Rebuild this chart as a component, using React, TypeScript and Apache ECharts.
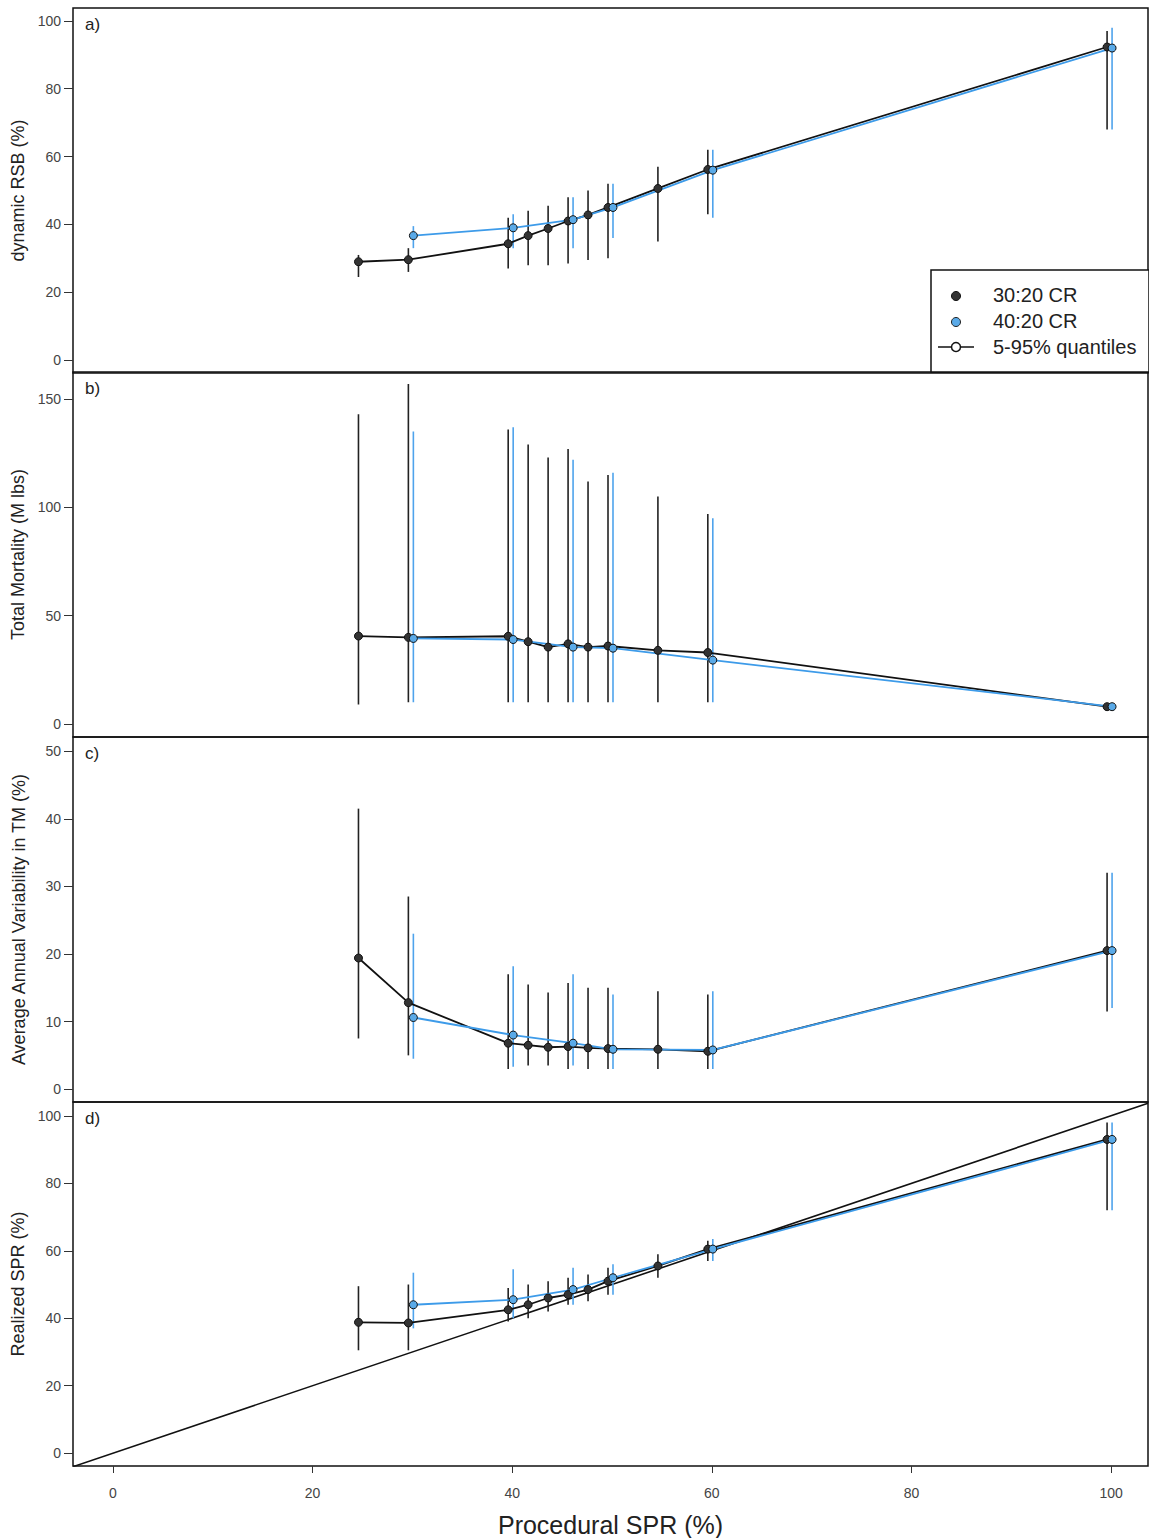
import * as echarts from "echarts";
import { useEffect, useRef } from "react";

// procedural SPR levels
const sprBlack = [25, 30, 40, 42, 44, 46, 48, 50, 55, 60, 100];
const sprBlue = [30, 40, 46, 50, 60, 100];

// a) dynamic RSB (%)
const rsbBlack = [29, 29.6, 34.3, 36.7, 38.8, 41, 42.8, 45, 50.6, 56.2, 92.3];
const rsbBlackLo = [24.5, 26, 27, 28, 28, 28.5, 29.5, 30, 35, 43, 68];
const rsbBlackHi = [31, 33, 42, 44, 45.5, 48, 50, 52, 57, 62, 97];
const rsbBlue = [36.7, 39, 41.4, 45, 56, 92];
const rsbBlueLo = [33, 33, 33, 36, 42, 68];
const rsbBlueHi = [39.5, 43, 48, 52, 62, 98];

// b) Total mortality (M lbs)
const tmBlack = [40.6, 40, 40.5, 38, 35.5, 37, 35.5, 36, 34, 33, 8];
const tmBlackLo = [9, 10, 10, 10, 10, 10, 10, 10, 10, 10, 7];
const tmBlackHi = [143, 157, 136, 129, 123, 127, 112, 115, 105, 97, 9];
const tmBlue = [39.5, 39, 35.5, 35, 29.5, 8];
const tmBlueLo = [10, 10, 10, 10, 10, 7];
const tmBlueHi = [135, 137, 122, 116, 95, 9];

// c) Average annual variability in TM (%)
const aavBlack = [19.4, 12.8, 6.8, 6.5, 6.2, 6.3, 6.1, 6, 5.9, 5.6, 20.5];
const aavBlackLo = [7.5, 5, 3, 3.5, 3.5, 3, 3, 3, 3, 3, 11.5];
const aavBlackHi = [41.5, 28.5, 17, 15.5, 14.3, 15.7, 15, 15, 14.5, 14, 32];
const aavBlue = [10.6, 8, 6.8, 5.9, 5.8, 20.5];
const aavBlueLo = [4.5, 3.3, 3.5, 3, 3, 12];
const aavBlueHi = [23, 18.2, 17, 14, 14.5, 32];

// d) Realized SPR (%)
const realBlack = [38.8, 38.6, 42.5, 44, 46, 47, 48.5, 51, 55.5, 60.5, 93];
const realBlackLo = [30.5, 30.5, 39, 40, 42, 44, 45, 47, 52, 57, 72];
const realBlackHi = [49.5, 50, 49, 50, 51, 52, 53, 55, 59, 63, 98];
const realBlue = [44, 45.5, 48.5, 52, 60.5, 93];
const realBlueLo = [37, 40, 44, 47, 57, 72];
const realBlueHi = [53.5, 54.5, 55, 56, 63.5, 98];

const BLACK_SHIFT = -0.4;
const BLUE_SHIFT = 0.1;
const X_MIN = -4;
const X_MAX = 103.7;

const panels = [
  { label: "a)", name: "dynamic RSB (%)", min: -3.8, max: 103.8, ticks: [0, 20, 40, 60, 80, 100],
    b: rsbBlack, bl: rsbBlackLo, bh: rsbBlackHi, u: rsbBlue, ul: rsbBlueLo, uh: rsbBlueHi },
  { label: "b)", name: "Total Mortality (M lbs)", min: -6, max: 162.5, ticks: [0, 50, 100, 150],
    b: tmBlack, bl: tmBlackLo, bh: tmBlackHi, u: tmBlue, ul: tmBlueLo, uh: tmBlueHi },
  { label: "c)", name: "Average Annual Variability in TM (%)", min: -1.9, max: 52.1, ticks: [0, 10, 20, 30, 40, 50],
    b: aavBlack, bl: aavBlackLo, bh: aavBlackHi, u: aavBlue, ul: aavBlueLo, uh: aavBlueHi },
  { label: "d)", name: "Realized SPR (%)", min: -3.8, max: 104.1, ticks: [0, 20, 40, 60, 80, 100],
    b: realBlack, bl: realBlackLo, bh: realBlackHi, u: realBlue, ul: realBlueLo, uh: realBlueHi },
];

const tops = [8, 372, 737, 1102];
const H = 365;
const LEFT = 73;
const W = 1075;

const BLUE_LINE = "#3d9be9";
const BLUE_FILL = "#5aaae8";

const errSeries = (idx: number, xs: number[], lo: number[], hi: number[], shift: number, color: string) => ({
  type: "custom",
  xAxisIndex: idx,
  yAxisIndex: idx,
  z: 2,
  data: xs.map((x, i) => [x + shift, lo[i], hi[i]]),
  encode: { x: 0, y: [1, 2] },
  renderItem: (_p: any, api: any) => {
    const a = api.coord([api.value(0), api.value(1)]);
    const b = api.coord([api.value(0), api.value(2)]);
    return {
      type: "line",
      shape: { x1: a[0], y1: a[1], x2: b[0], y2: b[1] },
      style: { stroke: color, lineWidth: 1.6 },
    };
  },
});

const ptSeries = (idx: number, xs: number[], ys: number[], shift: number, line: string, fill: string) => ({
  type: "line",
  xAxisIndex: idx,
  yAxisIndex: idx,
  z: 3,
  data: xs.map((x, i) => [x + shift, ys[i]]),
  symbol: "circle",
  symbolSize: 8,
  lineStyle: { color: line, width: 1.8 },
  itemStyle: { color: fill, borderColor: "#111", borderWidth: 1 },
});

const App: React.FC = () => {
  const chartRef = useRef<HTMLDivElement>(null);

  useEffect(() => {
    document.body.style.margin = "0";
    if (!chartRef.current) return;
    const chart = echarts.init(chartRef.current, undefined, { renderer: "svg" });

    const series: any[] = [];
    panels.forEach((p, i) => {
      series.push(errSeries(i, sprBlack, p.bl, p.bh, BLACK_SHIFT, "#222"));
      series.push(errSeries(i, sprBlue, p.ul, p.uh, BLUE_SHIFT, "#4ea3ec"));
      series.push(ptSeries(i, sprBlack, p.b, BLACK_SHIFT, "#111", "#333"));
      series.push(ptSeries(i, sprBlue, p.u, BLUE_SHIFT, BLUE_LINE, BLUE_FILL));
    });
    series.push({
      type: "line",
      xAxisIndex: 3,
      yAxisIndex: 3,
      z: 1,
      symbol: "none",
      data: [[X_MIN, X_MIN], [X_MAX, X_MAX]],
      lineStyle: { color: "#111", width: 1.6 },
    });

    const lx = 931;
    const ly = 270;
    const font = "Arial, Liberation Sans, sans-serif";
    const option = {
      animation: false,
      textStyle: { fontFamily: font },
      grid: panels.map((_, i) => ({
        left: LEFT, top: tops[i], width: W, height: H,
        show: true, borderColor: "#111", borderWidth: 1.5, backgroundColor: "transparent",
      })),
      xAxis: panels.map((_, i) => ({
        type: "value", gridIndex: i, min: X_MIN, max: X_MAX,
        splitLine: { show: false },
        axisLine: { show: false, onZero: false },
        axisTick: { show: i === 3, customValues: [0, 20, 40, 60, 80, 100], length: 7, lineStyle: { color: "#333" } },
        axisLabel: { show: i === 3, customValues: [0, 20, 40, 60, 80, 100], fontSize: 14, color: "#444", margin: 20 },
        name: i === 3 ? "Procedural SPR (%)" : "",
        nameLocation: "middle",
        nameGap: 46,
        nameTextStyle: { fontSize: 25, color: "#222" },
      })),
      yAxis: panels.map((p, i) => ({
        type: "value", gridIndex: i, min: p.min, max: p.max,
        splitLine: { show: false },
        axisLine: { show: false, onZero: false },
        axisTick: { show: true, customValues: p.ticks, length: 9, lineStyle: { color: "#333" } },
        axisLabel: { customValues: p.ticks, fontSize: 14, color: "#444", margin: 12 },
        name: p.name,
        nameLocation: "middle",
        nameGap: 45,
        nameTextStyle: { fontSize: 18, color: "#222" },
      })),
      graphic: [
        ...panels.map((p, i) => ({
          type: "text", left: LEFT + 12, top: tops[i] + 8,
          style: { text: p.label, fontSize: 17, fill: "#222", fontFamily: font },
          z: 10,
        })),
        { type: "rect", shape: { x: lx, y: ly, width: 218, height: 102 }, style: { fill: "#fff", stroke: "#111", lineWidth: 1.5 }, z: 10 },
        { type: "circle", shape: { cx: 956, cy: 296, r: 4.5 }, style: { fill: "#333", stroke: "#111" }, z: 11 },
        { type: "circle", shape: { cx: 956, cy: 322, r: 4.5 }, style: { fill: BLUE_FILL, stroke: "#222" }, z: 11 },
        { type: "line", shape: { x1: 938, y1: 347, x2: 974, y2: 347 }, style: { stroke: "#111", lineWidth: 1.5 }, z: 11 },
        { type: "circle", shape: { cx: 956, cy: 347, r: 4.5 }, style: { fill: "#fff", stroke: "#111", lineWidth: 1.5 }, z: 12 },
        ...["30:20 CR", "40:20 CR", "5-95% quantiles"].map((t, k) => ({
          type: "text", left: 993, top: 285 + k * 26,
          style: { text: t, fontSize: 20, fill: "#222", fontFamily: font },
          z: 11,
        })),
      ],
      series,
    };
    chart.setOption(option);
    return () => chart.dispose();
  }, []);

  return <div ref={chartRef} style={{ width: "1149px", height: "1538px" }}></div>;
};

export default App;
